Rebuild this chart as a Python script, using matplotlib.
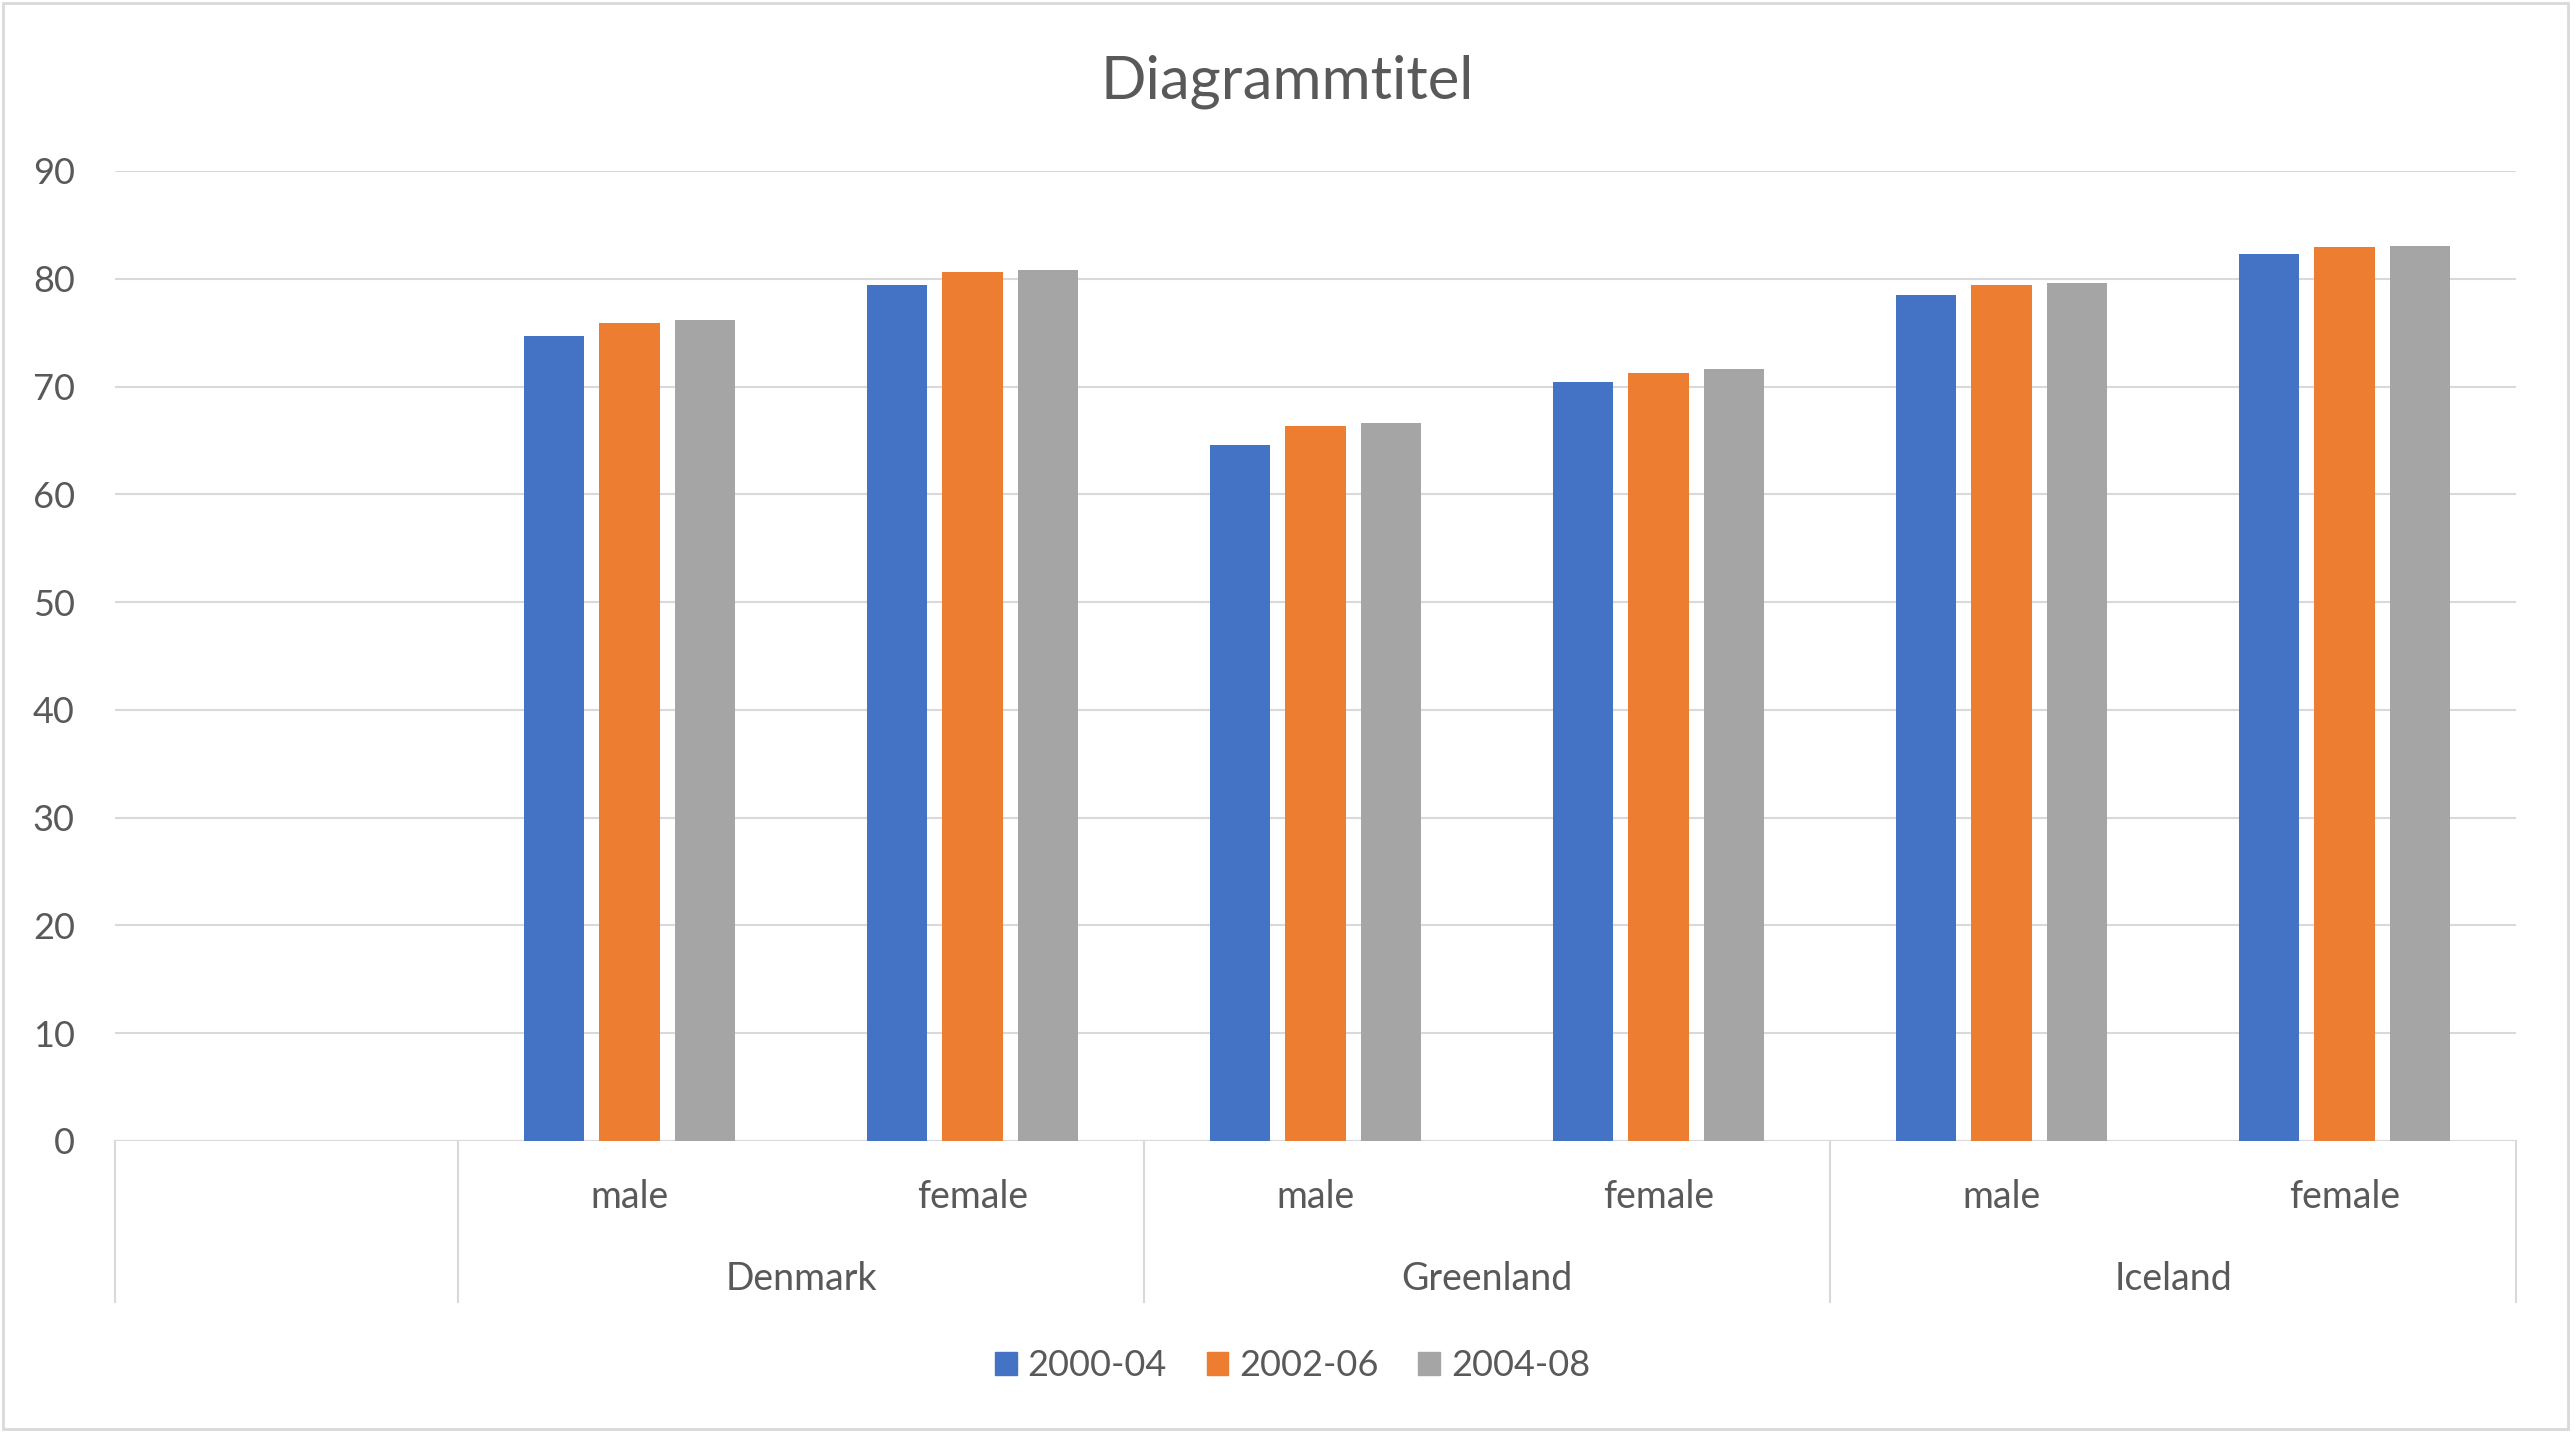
import numpy as np
import matplotlib.pyplot as plt
from matplotlib.patches import Patch, Rectangle
from matplotlib.transforms import blended_transform_factory

plt.rcParams['font.family'] = ['Lato', 'DejaVu Sans']

countries = ['Denmark', 'Greenland', 'Iceland']
sexes = ['male', 'female']
series = ['2000-04', '2002-06', '2004-08']
colors = ['#4472C4', '#ED7D31', '#A5A5A5']

# one value per (country, sex) in the order Denmark m/f, Greenland m/f, Iceland m/f
v2000 = [74.7, 79.4, 64.6, 70.4, 78.5, 82.3]
v2002 = [75.9, 80.6, 66.3, 71.3, 79.4, 82.9]
v2004 = [76.2, 80.8, 66.6, 71.6, 79.6, 83.0]
values = [v2000, v2002, v2004]

txt = '#595959'
grid = '#D9D9D9'

fig = plt.figure(figsize=(25.75, 14.39), dpi=100)
ax = fig.add_axes([0.0447, 0.2071, 0.9324, 0.6741])

# slot 0 is the empty first category of the original sheet
x = np.arange(1, 7)
w = 0.176
step = 0.22
for i, vals in enumerate(values):
    ax.bar(x + (i - 1) * step, vals, width=w, color=colors[i], label=series[i], zorder=3)

ax.set_xlim(-0.5, 6.5)
ax.set_ylim(0, 90)
ax.set_yticks(range(0, 91, 10))
ax.set_xticks([])
ax.yaxis.grid(True, color=grid, lw=1.5, zorder=0)
ax.tick_params(axis='y', length=0, labelsize=26, labelcolor=txt, pad=29)
for s in ax.spines.values():
    s.set_visible(False)
ax.axhline(0, color=grid, lw=1.5, zorder=1)

# multi-level category axis
tr = blended_transform_factory(ax.transData, ax.transAxes)
bottom = -0.166
for xb in [-0.5, 0.5, 2.5, 4.5, 6.5]:
    ax.plot([xb, xb], [0, bottom], transform=tr, color=grid, lw=1.5, clip_on=False)
for j, c in enumerate(countries):
    for k, s in enumerate(sexes):
        ax.text(1 + 2 * j + k, -0.0577, s, transform=tr, ha='center', va='center',
                fontsize=27, color=txt)
    ax.text(1.5 + 2 * j, -0.1423, c, transform=tr, ha='center', va='center',
            fontsize=27, color=txt)

fig.text(0.5, 1 - 82 / 1439, 'Diagrammtitel', ha='center', va='center',
         fontsize=43, color=txt)

handles = [Patch(color=colors[i], label=series[i]) for i in range(3)]
fig.legend(handles=handles, loc='center', bbox_to_anchor=(0.502, 1 - 1366 / 1439),
           ncol=3, frameon=False, fontsize=26, labelcolor=txt,
           handlelength=0.6, handleheight=0.6, handletextpad=0.3,
           columnspacing=1.1)

fig.add_artist(Rectangle((0.0013, 0.0068), 0.9961, 0.9909, fill=False,
                         ec=grid, lw=2, transform=fig.transFigure))

fig.savefig('out.png', dpi=100)
